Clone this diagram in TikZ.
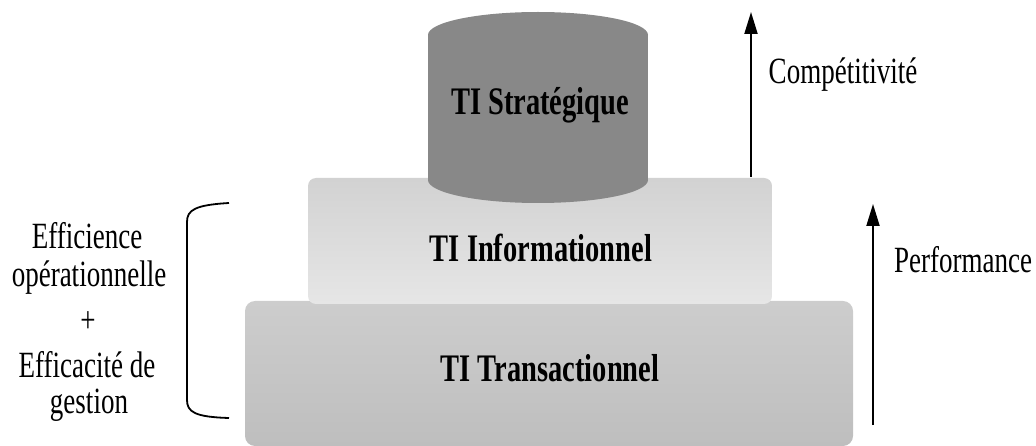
\documentclass[tikz,border=0pt]{standalone}
\usepackage{fontspec}
\setmainfont{Liberation Serif}[FakeStretch=0.73]
\usetikzlibrary{arrows.meta}
\definecolor{strategic}{HTML}{888888}
\definecolor{infotop}{HTML}{D2D2D2}
\definecolor{infobottom}{HTML}{E6E6E6}
\definecolor{transtop}{HTML}{CDCDCD}
\definecolor{transbottom}{HTML}{BEBEBE}
\tikzset{
  tierlabel/.style={anchor=base, inner sep=0pt, font=\fontsize{39}{42}\selectfont\bfseries},
  sidelabel/.style={anchor=base, inner sep=0pt, font=\fontsize{37}{40}\selectfont},
  growth/.style={line width=2pt, -{Triangle[length=22pt,width=13pt]}},
  brace/.style={line width=1.8pt}
}
\begin{document}
\begin{tikzpicture}[x=1pt,y=-1pt]
\useasboundingbox (0,0) rectangle (1036,446);

% bottom tier
\shade[top color=transtop, bottom color=transbottom, rounded corners=10pt]
  (245,301) rectangle (853,446);
% middle tier
\shade[top color=infotop, bottom color=infobottom, rounded corners=8pt]
  (308,178) rectangle (772,304);
% top cylinder
\fill[strategic] (428,35) rectangle (648,180);
\fill[strategic] (538,180) ellipse [x radius=110, y radius=23];
\fill[strategic] (538,35) ellipse [x radius=110, y radius=23];

% tier labels
\node[tierlabel] (strat) at (540,115) {TI Stratégique};
\node[tierlabel] (info) at (541,262) {TI Informationnel};
\node[tierlabel] (trans) at (550,381) {TI Transactionnel};

% growth arrows
\coordinate (c0) at (751,177);
\coordinate (c1) at (751,12);
\draw[growth] (c0) -- (c1);
\coordinate (p0) at (873,425);
\coordinate (p1) at (873,204);
\draw[growth] (p0) -- (p1);
\node[sidelabel] (comp) at (843,84) {Compétitivité};
\node[sidelabel] (perf) at (963,273) {Performance};

% left bracket
\coordinate (b0) at (229,203);
\coordinate (b1) at (229,418);
\draw[brace] (b0) .. controls (195,205) and (187,210) .. (187,222)
  -- (187,400) .. controls (187,412) and (195,417) .. (b1);

% left caption
\node[sidelabel] (l1) at (87,249) {Efficience};
\node[sidelabel] (l2) at (89,287) {opérationnelle};
\node[sidelabel] (l3) at (88,332) {+};
\node[sidelabel] (l4) at (87,377) {Efficacité de};
\node[sidelabel] (l5) at (89,413) {gestion};
\end{tikzpicture}
\end{document}
